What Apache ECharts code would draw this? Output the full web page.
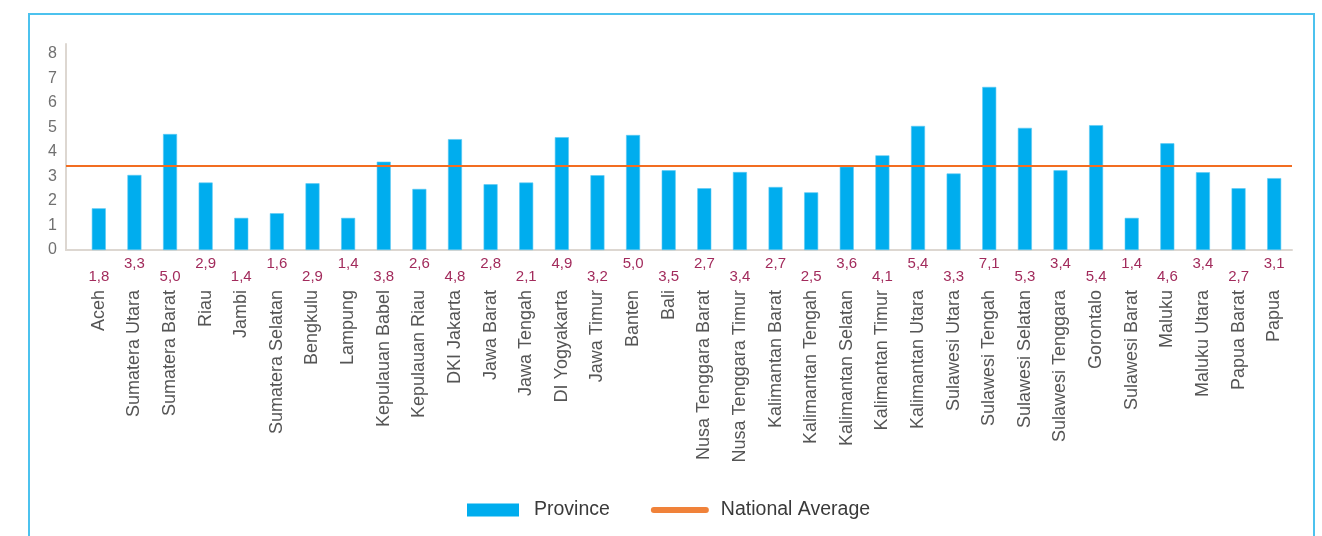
<!DOCTYPE html>
<html>
<head>
<meta charset="utf-8">
<script src="https://cdn.jsdelivr.net/npm/echarts@6/dist/echarts.min.js"></script>
<style>
  html, body { margin: 0; padding: 0; background: #fff; overflow: hidden; }
  #frame {
    position: absolute; left: 28px; top: 13px; width: 1287px; height: 540px;
    border: 2px solid #4cc2ee; box-sizing: border-box;
  }
  #chart { position: absolute; left: 0; top: 0; width: 1322px; height: 536px; }
</style>
</head>
<body>
<div id="frame"></div>
<div id="chart"></div>
<script>
// provinsi
const categories = [
  'Aceh', 'Sumatera Utara', 'Sumatera Barat', 'Riau', 'Jambi', 'Sumatera Selatan',
  'Bengkulu', 'Lampung', 'Kepulauan Babel', 'Kepulauan Riau', 'DKI Jakarta',
  'Jawa Barat', 'Jawa Tengah', 'DI Yogyakarta', 'Jawa Timur', 'Banten', 'Bali',
  'Nusa Tenggara Barat', 'Nusa Tenggara Timur', 'Kalimantan Barat', 'Kalimantan Tengah',
  'Kalimantan Selatan', 'Kalimantan Timur', 'Kalimantan Utara', 'Sulawesi Utara',
  'Sulawesi Tengah', 'Sulawesi Selatan', 'Sulawesi Tenggara', 'Gorontalo',
  'Sulawesi Barat', 'Maluku', 'Maluku Utara', 'Papua Barat', 'Papua'
];
// tinggi batang
const provinceValues = [
  1.70, 3.06, 4.73, 2.75, 1.31, 1.50, 2.72, 1.31, 3.60, 2.49, 4.52,
  2.68, 2.75, 4.60, 3.05, 4.69, 3.25, 2.52, 3.18, 2.57, 2.35,
  3.40, 3.86, 5.06, 3.12, 6.65, 4.98, 3.25, 5.09, 1.31, 4.35,
  3.17, 2.52, 2.93
];
// angka yang ditulis di bawah sumbu
const labelValues = [
  1.8, 3.3, 5.0, 2.9, 1.4, 1.6, 2.9, 1.4, 3.8, 2.6, 4.8,
  2.8, 2.1, 4.9, 3.2, 5.0, 3.5, 2.7, 3.4, 2.7, 2.5,
  3.6, 4.1, 5.4, 3.3, 7.1, 5.3, 3.4, 5.4, 1.4, 4.6,
  3.4, 2.7, 3.1
];
const nationalAverage = 3.43;
const yTicks = [0, 1, 2, 3, 4, 5, 6, 7, 8];

const font = 'Liberation Sans, Arial, sans-serif';
const axisGray = '#ddd7d1';

let myChart = echarts.init(document.getElementById('chart'));

myChart.setOption({
  animation: false,
  backgroundColor: 'transparent',
  legend: {
    left: 462,
    top: 495,
    itemWidth: 52,
    itemHeight: 13,
    itemGap: 41,
    itemStyle: { borderWidth: 0 },
    textStyle: { fontFamily: font, fontSize: 19.5, color: '#3a3a3a', padding: [0, 0, 0, 10] },
    data: [
      { name: 'Province', icon: 'rect' },
      {
        name: 'National Average',
        itemStyle: { opacity: 0 },
        lineStyle: { width: 6, cap: 'round', color: '#f0823a' }
      }
    ]
  },
  grid: [
    // sumbu + garis rata-rata
    { left: 66, right: 30, top: 44, bottom: 286 },
    // batang
    { left: 81, right: 30, top: 44, bottom: 286 }
  ],
  xAxis: [
    {
      gridIndex: 0,
      type: 'category',
      data: categories,
      boundaryGap: false,
      axisLine: { lineStyle: { color: axisGray, width: 2 } },
      axisTick: { show: false },
      axisLabel: { show: false }
    },
    {
      gridIndex: 1,
      type: 'category',
      data: categories,
      axisLine: { show: false },
      axisTick: { show: false },
      axisLabel: {
        rotate: 90,
        margin: 40,
        interval: 0,
        fontFamily: font,
        fontSize: 18,
        color: '#555'
      }
    }
  ],
  yAxis: [
    {
      gridIndex: 0,
      type: 'value',
      min: 0,
      max: 8.4,
      interval: 1,
      splitLine: { show: false },
      axisLine: { show: true, lineStyle: { color: axisGray, width: 2 } },
      axisTick: { show: false },
      axisLabel: {
        margin: 9,
        fontFamily: font,
        fontSize: 16,
        color: '#707070',
        formatter: (v) => (yTicks.indexOf(v) >= 0 ? String(v) : '')
      }
    },
    {
      gridIndex: 1,
      type: 'value',
      min: 0,
      max: 8.4,
      show: false,
      splitLine: { show: false }
    }
  ],
  series: [
    {
      name: 'Province',
      type: 'bar',
      xAxisIndex: 1,
      yAxisIndex: 1,
      barWidth: 14,
      itemStyle: { color: '#00adee', borderColor: '#5ccaf3', borderWidth: 0.6 },
      label: {
        show: true,
        position: 'bottom',
        fontFamily: font,
        fontSize: 15,
        color: '#a22b5c',
        formatter: (p) => labelValues[p.dataIndex].toFixed(1).replace('.', ',')
      },
      data: provinceValues.map((v, i) => ({
        value: v,
        label: { distance: i % 2 ? 6 : 19 }
      }))
    },
    {
      name: 'National Average',
      type: 'line',
      xAxisIndex: 0,
      yAxisIndex: 0,
      symbol: 'none',
      lineStyle: { color: '#f26d21', width: 2 },
      itemStyle: { color: '#f0823a' },
      data: categories.map(() => nationalAverage)
    }
  ]
});
</script>
</body>
</html>
